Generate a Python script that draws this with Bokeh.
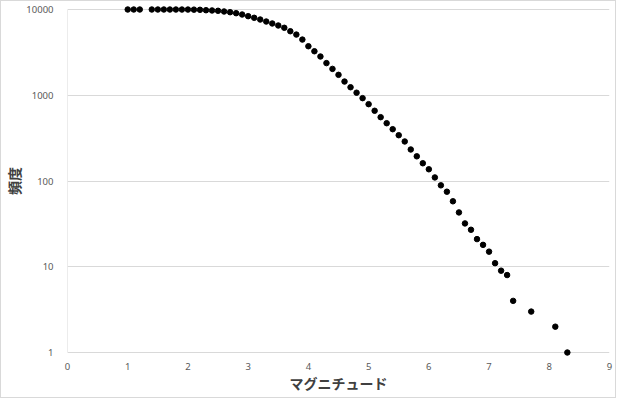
from bokeh.plotting import figure
from bokeh.models import FixedTicker
from bokeh.embed import file_html
from bokeh.resources import INLINE

# Magnitude classes and cumulative frequency of events at or above each magnitude
magnitude = [1.0, 1.1, 1.2, 1.4, 1.5, 1.6, 1.7, 1.8, 1.9, 2.0,
             2.1, 2.2, 2.3, 2.4, 2.5, 2.6, 2.7, 2.8, 2.9,
             3.0, 3.1, 3.2, 3.3, 3.4, 3.5, 3.6, 3.7, 3.8, 3.9,
             4.0, 4.1, 4.2, 4.3, 4.4, 4.5, 4.6, 4.7, 4.8, 4.9,
             5.0, 5.1, 5.2, 5.3, 5.4, 5.5, 5.6, 5.7, 5.8, 5.9,
             6.0, 6.1, 6.2, 6.3, 6.4, 6.5, 6.6, 6.7, 6.8, 6.9,
             7.0, 7.1, 7.2, 7.3, 7.4, 7.7, 8.1, 8.3]
frequency = [10000, 10000, 10000, 9999, 9998, 9997, 9995, 9993, 9990, 9985,
             9960, 9920, 9810, 9740, 9660, 9480, 9300, 9060, 8740,
             8360, 8000, 7640, 7240, 6870, 6510, 6120, 5580, 5100, 4460,
             3730, 3260, 2830, 2370, 2030, 1730, 1445, 1240, 1070, 925,
             787, 659, 555, 472, 402, 342, 289, 233, 194, 161,
             137, 110, 89, 75, 58, 43, 32, 27, 21, 18,
             15, 11, 9, 8, 4, 3, 2, 1]

x_ticks = [0, 1, 2, 3, 4, 5, 6, 7, 8, 9]
y_ticks = [1, 10, 100, 1000, 10000]
y_tick_labels = ["1", "10", "100", "1000", "10000"]
x_title = "マグニチュード"
y_title = "頻度"

# the frame is padded a few pixels beyond 1..10000 so markers on the
# bounds are drawn whole; one decade spans DECADE_PX pixels
DECADE_PX = 85.75
PAD_PX = 5
pad = 10 ** (PAD_PX / DECADE_PX)

GRID = "#d9d9d9"
LABEL = "#595959"

p = figure(width=616, height=398,
           x_range=(x_ticks[0], x_ticks[-1]),
           y_range=(y_ticks[0] / pad, y_ticks[-1] * pad),
           y_axis_type="log",
           output_backend="svg", toolbar_location=None,
           min_border_left=66, min_border_right=8,
           min_border_top=3, min_border_bottom=42)
p.styles = {"border": "1px solid " + GRID}
p.outline_line_color = None
p.background_fill_color = "white"
p.border_fill_color = "white"

p.xgrid.visible = False
p.ygrid.ticker = FixedTicker(ticks=y_ticks)
p.ygrid.grid_line_color = GRID
p.ygrid.grid_line_width = 1
p.ygrid.minor_grid_line_color = None

# left axis line from 1 to 10000 only
p.line([x_ticks[0], x_ticks[0]], [y_ticks[0], y_ticks[-1]], line_color=GRID, line_width=1)

for ax in (p.xaxis[0], p.yaxis[0]):
    ax.axis_line_color = None
    ax.major_tick_line_color = None
    ax.minor_tick_line_color = None
    ax.major_label_text_color = LABEL
    ax.major_label_text_font = "Noto Sans"
    ax.major_label_text_font_size = "9.5px"
    ax.axis_label_text_font = "Noto Sans CJK JP"
    ax.axis_label_text_font_size = "14px"
    ax.axis_label_text_font_style = "bold"
    ax.axis_label_text_color = "#404040"

p.xaxis.ticker = FixedTicker(ticks=x_ticks)
p.xaxis.major_label_standoff = -1
p.xaxis.axis_label = x_title
p.xaxis.axis_label_standoff = 0

p.yaxis.ticker = FixedTicker(ticks=y_ticks)
p.yaxis.major_label_overrides = {t: s for t, s in zip(y_ticks, y_tick_labels)}
p.yaxis.major_label_standoff = 8
p.yaxis.axis_label = y_title
p.yaxis.axis_label_standoff = -1

p.scatter(magnitude, frequency, size=5.5, color="black")

open("out.html", "w").write(file_html(p, INLINE))
